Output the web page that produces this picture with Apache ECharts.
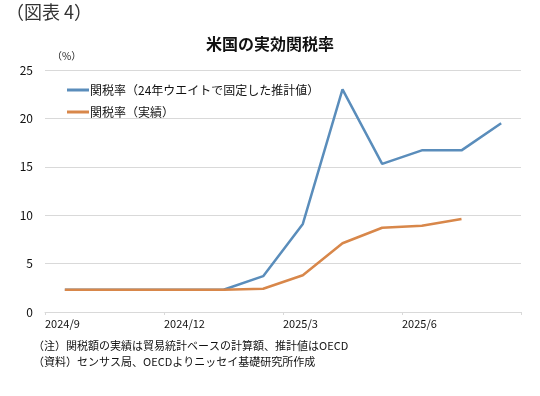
<!DOCTYPE html>
<html><head><meta charset="utf-8">
<script src="https://cdn.jsdelivr.net/npm/echarts@6/dist/echarts.min.js"></script>
<style>html,body{margin:0;padding:0;background:#fff}#c{width:540px;height:396px}</style>
</head><body><div id="c"></div>
<script>
const categories = ['2024/9','2024/10','2024/11','2024/12','2025/1','2025/2','2025/3','2025/4','2025/5','2025/6','2025/7','2025/8'];
const tickLabels = ['2024/9','2024/12','2025/3','2025/6',''];
const seriesNames = ['関税率（24年ウエイトで固定した推計値）','関税率（実績）'];
const estimated = [2.3,2.3,2.3,2.3,2.3,3.7,9.1,23.0,15.3,16.7,16.7,19.5];
const actual = [2.3,2.3,2.3,2.3,2.3,2.4,3.8,7.1,8.7,8.9,9.6,null];
const yTicks = [0,5,10,15,20,25];

const font = '"Noto Sans CJK JP", "Noto Sans", sans-serif';
const chart = echarts.init(document.getElementById('c'));
chart.setOption({
  animation:false,
  backgroundColor:'#fff',
  textStyle:{fontFamily:font},
  graphic:[
    {type:'text',left:6,top:3,style:{text:'（図表 4）',font:'18px '+font,fill:'#333'}},
    {type:'text',left:'center',top:36,style:{text:'米国の実効関税率',font:'bold 16px '+font,fill:'#111'}},
    {type:'text',left:52,top:51,style:{text:'（%）',font:'10px '+font,fill:'#222'}},
    {type:'text',left:33,top:340,style:{text:'（注）関税額の実績は貿易統計ベースの計算額、推計値はOECD',font:'11px '+font,fill:'#111'}},
    {type:'text',left:33,top:356,style:{text:'（資料）センサス局、OECDよりニッセイ基礎研究所作成',font:'11px '+font,fill:'#111'}}
  ],
  legend:{
    orient:'vertical',left:62,top:79,itemGap:10,itemWidth:22,itemHeight:3,
    icon:'rect',
    textStyle:{fontSize:12,color:'#111',fontFamily:font,padding:[0,0,0,-4]},
    data:seriesNames
  },
  grid:{left:45,right:19,top:70,bottom:84,containLabel:false},
  xAxis:[
    {type:'category',data:categories,boundaryGap:true,
     axisLine:{show:false},axisTick:{show:false},axisLabel:{show:false},splitLine:{show:false}},
    {type:'value',min:0,max:12,interval:3,position:'bottom',
     axisLine:{show:true,onZero:false,lineStyle:{color:'#d9d9d9'}},
     axisTick:{show:true,length:3,lineStyle:{color:'#d9d9d9'}},
     splitLine:{show:false},
     axisLabel:{align:'left',margin:6,fontSize:11,color:'#111',fontFamily:font,
       formatter:function(v){return tickLabels[Math.round(v/3)]||'';}}}
  ],
  yAxis:{type:'value',min:0,max:25,interval:5,
    axisLine:{show:false},axisTick:{show:false},
    axisLabel:{fontSize:12,color:'#111',margin:12,fontFamily:font,
      formatter:function(v){return yTicks.indexOf(v)>=0?String(v):'';}},
    splitLine:{lineStyle:{color:'#d9d9d9',width:1}}},
  series:[
    {name:seriesNames[0],type:'line',xAxisIndex:0,data:estimated,symbol:'none',
     lineStyle:{color:'#5a8dbb',width:2.5},itemStyle:{color:'#5a8dbb'},z:2},
    {name:seriesNames[1],type:'line',xAxisIndex:0,data:actual,symbol:'none',
     lineStyle:{color:'#d8874a',width:2.5},itemStyle:{color:'#d8874a'},z:3}
  ]
});
</script></body></html>
